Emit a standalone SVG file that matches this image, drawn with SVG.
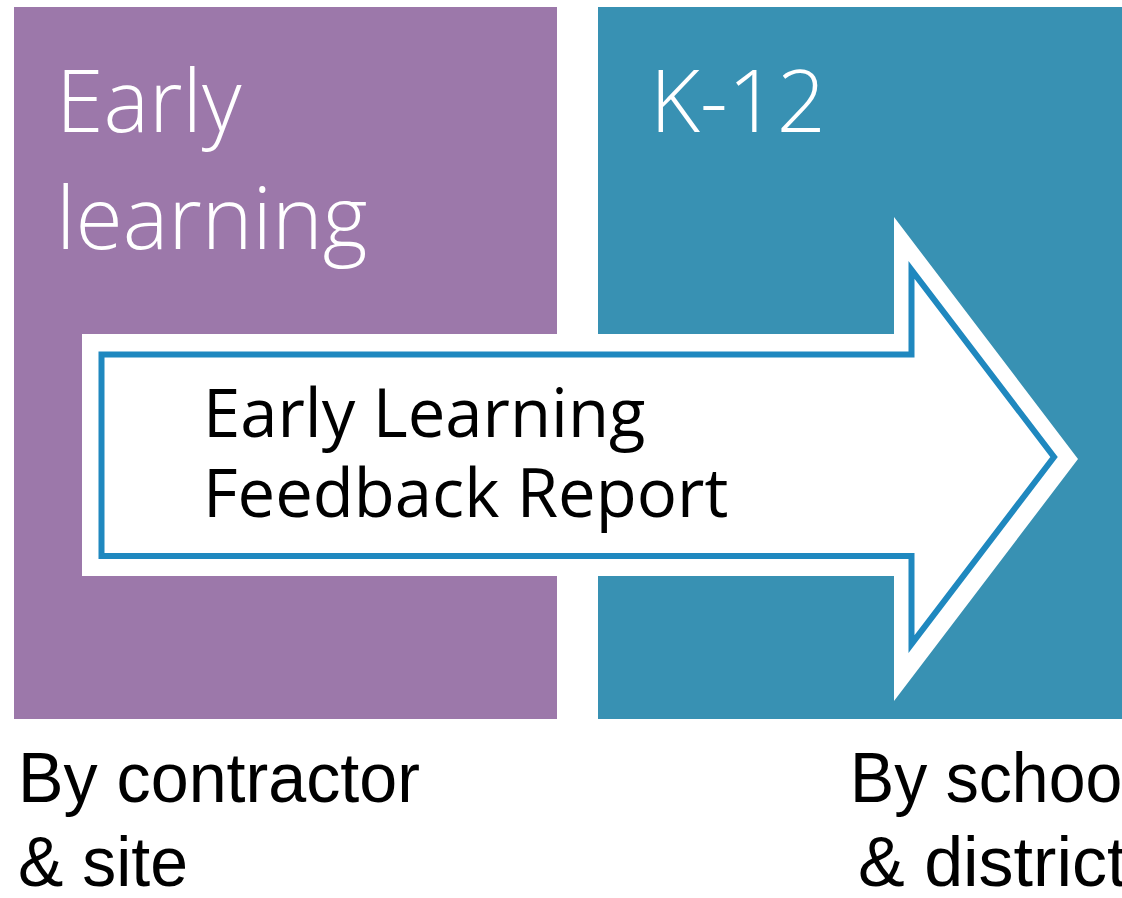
<svg xmlns="http://www.w3.org/2000/svg" width="1122" height="898" viewBox="0 0 1122 898">
<style>
.title{font-family:"Open Sans","Noto Sans",sans-serif;font-weight:300;font-size:86px;fill:#ffffff}
.arrowtext{font-family:"Open Sans","Noto Sans",sans-serif;font-size:67px;fill:#000000}
.caption{font-family:"Liberation Sans",Arial,sans-serif;font-size:70px;fill:#000000}
</style>
<rect width="1122" height="898" fill="#ffffff"/>
<g id="early-learning">
<rect x="14" y="7" width="543" height="712" fill="#9C78AA"/>
<text class="title" x="56" y="132">Early</text>
<text class="title" x="56" y="249">learning</text>
</g>
<g id="k12">
<rect x="598" y="7" width="524" height="712" fill="#3891B3"/>
<text class="title" x="650" y="132">K-12</text>
</g>
<g id="connectors">
<g id="feedback-arrow">
<polygon points="82,334 894,334 894,217 1078,459 894,701 894,576 82,576" fill="#ffffff"/>
<polygon points="101.5,354.5 911.5,354.5 911.5,270 1054,457 911.5,644 911.5,556 101.5,556" fill="#ffffff" stroke="#1F88BF" stroke-width="6"/>
<text class="arrowtext" x="203" y="437">Early Learning</text>
<text class="arrowtext" x="203" y="517">Feedback Report</text>
</g>
</g>
<g id="captions">
<text class="caption" x="18" y="802" textLength="402" lengthAdjust="spacingAndGlyphs">By contractor</text>
<text class="caption" x="18" y="886" textLength="170" lengthAdjust="spacingAndGlyphs">&amp; site</text>
<text class="caption" x="850" y="802" textLength="287" lengthAdjust="spacingAndGlyphs">By school</text>
<text class="caption" x="858" y="886">&amp; district</text>
</g>
</svg>
